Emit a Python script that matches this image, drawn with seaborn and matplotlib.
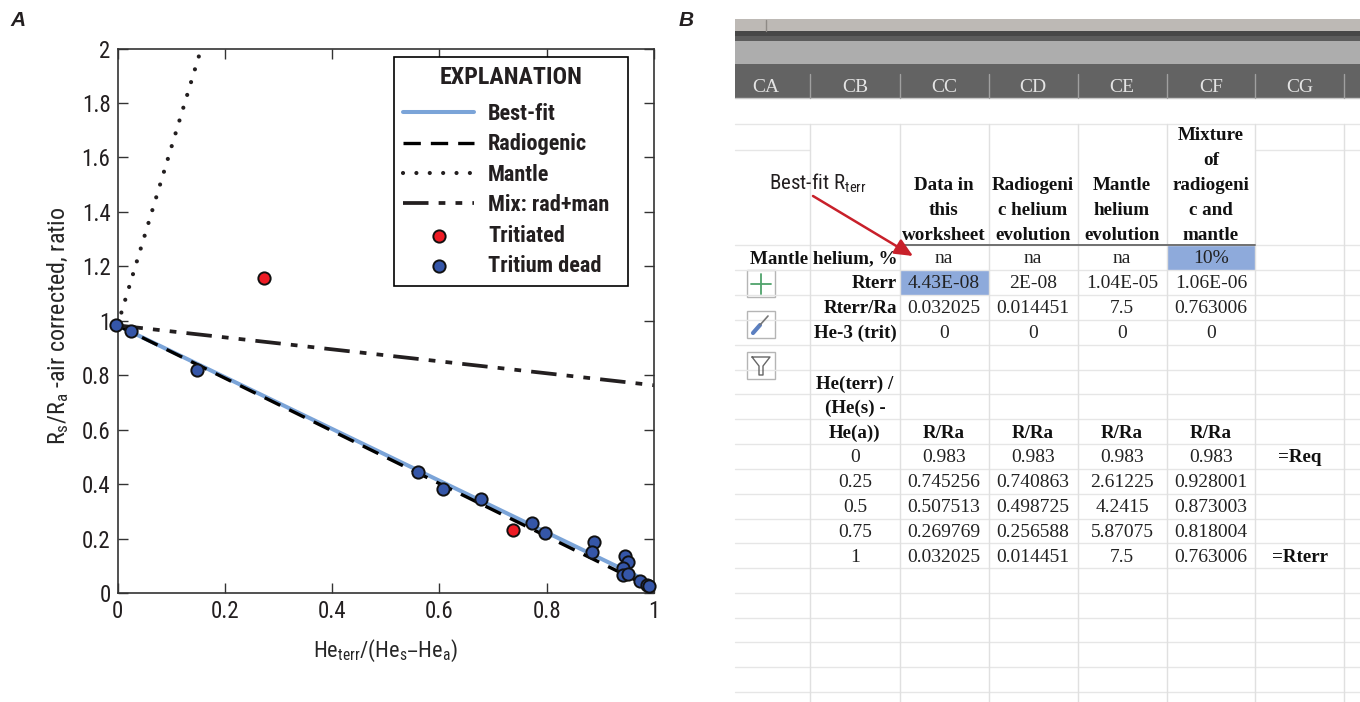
import matplotlib
matplotlib.use('Agg')
import matplotlib.pyplot as plt
from matplotlib import font_manager
from matplotlib.patches import Rectangle
import seaborn as sns

# Panel A, helium isotope data
dead_x = [-0.003, 0.025, 0.148, 0.560, 0.606, 0.678, 0.772, 0.796, 0.889, 0.884, 0.946,
          0.951, 0.942, 0.942, 0.951, 0.974, 0.987, 0.990]
dead_y = [0.985, 0.964, 0.820, 0.445, 0.382, 0.344, 0.258, 0.221, 0.186, 0.152, 0.136,
          0.115, 0.093, 0.066, 0.071, 0.043, 0.028, 0.025]
trit_x = [0.273, 0.738]
trit_y = [1.158, 0.231]

# Panel B, worksheet values (also the model lines in panel A)
he_frac = [0, 0.25, 0.5, 0.75, 1]
best_fit = [0.983, 0.745256, 0.507513, 0.269769, 0.032025]
radiogenic = [0.983, 0.740863, 0.498725, 0.256588, 0.014451]
mantle = [0.983, 2.61225, 4.2415, 5.87075, 7.5]
mix = [0.983, 0.928001, 0.873003, 0.818004, 0.763006]

col_letters = ['CA', 'CB', 'CC', 'CD', 'CE', 'CF', 'CG']
headers = [['Data in', 'this', 'worksheet'],
           ['Radiogeni', 'c helium', 'evolution'],
           ['Mantle', 'helium', 'evolution'],
           ['Mixture', 'of', 'radiogeni', 'c and', 'mantle']]
param_labels = ['Mantle helium, %', 'Rterr', 'Rterr/Ra', 'He-3 (trit)']
param_rows = [['na', 'na', 'na', '10%'],
              ['4.43E-08', '2E-08', '1.04E-05', '1.06E-06'],
              ['0.032025', '0.014451', '7.5', '0.763006'],
              ['0', '0', '0', '0']]
frac_labels = ['0', '0.25', '0.5', '0.75', '1']
frac_rows = [['0.983', '0.983', '0.983', '0.983'],
             ['0.745256', '0.740863', '2.61225', '0.928001'],
             ['0.507513', '0.498725', '4.2415', '0.873003'],
             ['0.269769', '0.256588', '5.87075', '0.818004'],
             ['0.032025', '0.014451', '7.5', '0.763006']]

sns.set_style('ticks')
# use a condensed face if the machine happens to have one
installed = {f.name for f in font_manager.fontManager.ttflist}
narrow = [f for f in ['Roboto Condensed', 'Liberation Sans Narrow', 'Liberation Sans', 'DejaVu Sans'] if f in installed]
plt.rcParams['font.family'] = narrow
plt.rcParams['mathtext.default'] = 'regular'
plt.rcParams['text.color'] = '#231f20'

W, H = 1360, 702
fig = plt.figure(figsize=(W / 100, H / 100), dpi=100)
ax = fig.add_axes([117.5 / W, (H - 593) / H, 536.5 / W, 544.5 / H])

sns.lineplot(x=he_frac, y=best_fit, ax=ax, color='#7ba4d8', linewidth=2.9, label='Best-fit')
sns.lineplot(x=he_frac, y=radiogenic, ax=ax, color='black', linewidth=2.4,
             linestyle=(0, (5.2, 3.0)), label='Radiogenic')
sns.lineplot(x=he_frac, y=mantle, ax=ax, color='#231f20', linewidth=3.0,
             linestyle=(0, (0.01, 3.2)), dash_capstyle='round', label='Mantle')
sns.lineplot(x=he_frac, y=mix, ax=ax, color='#231f20', linewidth=2.7,
             linestyle=(0, (6.8, 2.7, 1.8, 2.7, 1.8, 2.7)), label='Mix: rad+man')
sns.scatterplot(x=trit_x, y=trit_y, ax=ax, color='#ee1c25', edgecolor='#111111', linewidth=1.4,
                s=78, clip_on=False, zorder=5, label='Tritiated')
sns.scatterplot(x=dead_x, y=dead_y, ax=ax, color='#3556a8', edgecolor='#111111', linewidth=1.4,
                s=78, clip_on=False, zorder=5, label='Tritium dead')

ax.set_xlim(0, 1)
ax.set_ylim(0, 2)
ax.set_xticks([0, 0.2, 0.4, 0.6, 0.8, 1])
ax.set_xticklabels(['0', '0.2', '0.4', '0.6', '0.8', '1'])
ax.set_yticks([0, 0.2, 0.4, 0.6, 0.8, 1, 1.2, 1.4, 1.6, 1.8, 2])
ax.set_yticklabels(['0', '0.2', '0.4', '0.6', '0.8', '1', '1.2', '1.4', '1.6', '1.8', '2'])
ax.tick_params(direction='in', length=7, width=1, top=True, right=True, labelsize=16.5,
               color='#333333', labelcolor='#231f20', pad=5)
for s in ax.spines.values():
    s.set_visible(True)
    s.set_linewidth(1.2)
    s.set_color('#333333')
ax.set_xlabel('He$_{terr}$/(He$_{s}$\u2013He$_{a}$)', fontsize=16, labelpad=11)
ax.set_ylabel('R$_{s}$/R$_{a}$ -air corrected, ratio', fontsize=17.3, labelpad=8, y=0.49)

# expand mode makes the frame the same width as the anchor box
leg = ax.legend(loc='upper left', bbox_to_anchor=(0.515, 0.885, 0.436, 0.1), mode='expand', borderaxespad=0,
                fancybox=False, framealpha=1, edgecolor='black', prop={'weight': 'bold', 'size': 16},
                title='EXPLANATION', title_fontproperties={'weight': 'bold', 'size': 17.3},
                handlelength=3.2, handletextpad=0.63, labelspacing=0.38, borderpad=0.42)
leg._legend_box.sep = 10  # more room under the title than between the rows
leg.get_frame().set_linewidth(1.2)
leg.set_zorder(10)

# Panel B, worksheet screenshot drawn in figure pixels
sheet = fig.add_axes([0, 0, 1, 1], zorder=3)
sheet.set_xlim(0, W)
sheet.set_ylim(H, 0)
sheet.axis('off')
sheet.patch.set_alpha(0)

left = 735
col_edges = [810, 900, 989, 1078, 1167, 1255, 1344]
col_mid = [766, 855, 944, 1033, 1122, 1211, 1300]
row_lines = [150, 245, 270, 295, 320, 345, 370, 394, 419, 444, 469, 494, 519, 543, 568, 593, 618, 642, 667, 692]

bands = [(19, 31, '#bdb9b5'), (31, 36, '#474747'), (36, 41, '#5c5c5c'), (41, 64, '#adadad'), (64, 98, '#636363')]
for y0, y1, c in bands:
    sheet.add_patch(Rectangle((left, y0), W - left, y1 - y0, color=c, lw=0))
sheet.plot([left, W], [98, 98], color='#c8c8c8', lw=1)
sheet.plot([766, 766], [20, 31], color='#8e8a86', lw=1)
for x in col_edges:
    sheet.plot([x, x], [74, 98], color='#a0a0a0', lw=1)
for name, x in zip(col_letters, col_mid):
    sheet.text(x, 88, name, family='Liberation Serif', fontsize=14, color='#e4e4e4', ha='center', va='center')

sheet.plot([left, W], [124, 124], color='#e6e6e6', lw=1)
for y in row_lines:
    if y == 150:
        sheet.plot([left, 810], [y, y], color='#e6e6e6', lw=1)
        sheet.plot([1255, W], [y, y], color='#e6e6e6', lw=1)
    else:
        sheet.plot([left, W], [y, y], color='#e6e6e6', lw=1)
for x in col_edges:
    sheet.plot([x, x], [124, H], color='#e0e0e0', lw=1)
sheet.plot([900, 1255], [245, 245], color='#707070', lw=1.4)

sheet.add_patch(Rectangle((900, 270), 89, 25, color='#8eaadb', lw=0))
sheet.add_patch(Rectangle((1167, 245), 88, 25, color='#8eaadb', lw=0))

serif = 'Liberation Serif'
for col, lines in zip(col_mid[2:], headers):
    for i, line in enumerate(reversed(lines)):
        sheet.text(col, 235 - i * 24.8, line, family=serif, weight='bold', fontsize=13.7,
                   ha='center', va='center', color='#111111')
for j, (lab, vals) in enumerate(zip(param_labels, param_rows)):
    y = 258.5 + j * 24.9
    sheet.text(897, y, lab, family=serif, weight='bold', fontsize=13.7, ha='right', va='center', color='#111111')
    for col, v in zip(col_mid[2:], vals):
        sheet.text(col, y, v, family=serif, fontsize=14, ha='center', va='center', color='#222222')
for i, line in enumerate(['He(terr) /', '(He(s) -', 'He(a))']):
    sheet.text(855, 384 + i * 24.5, line, family=serif, weight='bold', fontsize=13.7,
               ha='center', va='center', color='#111111')
for col in col_mid[2:6]:
    sheet.text(col, 433, 'R/Ra', family=serif, weight='bold', fontsize=13.7, ha='center', va='center', color='#111111')
for j, (lab, vals) in enumerate(zip(frac_labels, frac_rows)):
    y = 458 + j * 24.8
    sheet.text(855, y, lab, family=serif, fontsize=14, ha='center', va='center', color='#222222')
    for col, v in zip(col_mid[2:], vals):
        sheet.text(col, y, v, family=serif, fontsize=14, ha='center', va='center', color='#222222')
sheet.text(1300, 458, '=Req', family=serif, weight='bold', fontsize=13.7, ha='center', va='center', color='#111111')
sheet.text(1300, 557, '=Rterr', family=serif, weight='bold', fontsize=13.7, ha='center', va='center', color='#111111')

# annotation and the little toolbar buttons
sheet.text(769, 183, 'Best-fit R$_{terr}$', fontsize=15, ha='left', va='center')
sheet.annotate('', xy=(913, 256), xytext=(813, 196),
               arrowprops=dict(arrowstyle='-|>,head_length=1.1,head_width=0.5', mutation_scale=10, color='#c8202a',
                               lw=1.8, shrinkA=0, shrinkB=0))
for y in [270, 311, 352]:
    sheet.add_patch(Rectangle((747, y), 28, 27, fc='white', ec='#b5b5b5', lw=1))
sheet.plot([751, 771], [284, 284], color='#4fa36b', lw=1.3)
sheet.plot([761, 761], [274, 294], color='#4fa36b', lw=1.3)
sheet.plot([753, 760], [333, 325], color='#5b7fc0', lw=3, solid_capstyle='round')
sheet.plot([760, 768], [325, 316], color='#777777', lw=1.2)
sheet.plot([752, 770, 763, 763, 759, 759, 752], [357, 357, 366, 375, 375, 366, 357], color='#666666', lw=1)

fig.text(10 / W, 1 - 20 / H, 'A', family='Liberation Sans', weight='bold', style='italic', fontsize=15, va='center')
fig.text(679 / W, 1 - 20 / H, 'B', family='Liberation Sans', weight='bold', style='italic', fontsize=15, va='center')

fig.savefig('out.png', dpi=100)
